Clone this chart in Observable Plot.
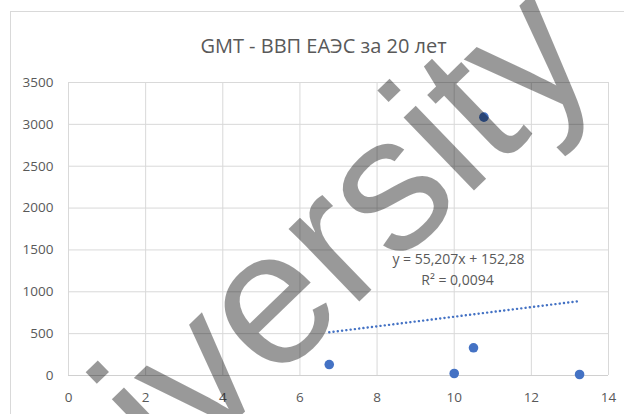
<!DOCTYPE html>
<html>
<head>
<meta charset="utf-8">
<script src="https://cdn.jsdelivr.net/npm/d3@7"></script>
<script src="https://cdn.jsdelivr.net/npm/@observablehq/plot@0.6"></script>
<style>
  html, body { margin: 0; padding: 0; background: #fff; overflow: hidden; }
  #chart { width: 624px; height: 414px; position: relative; }
</style>
</head>
<body>
<div id="chart"></div>
<script>
// Data
const gmt = [6.76, 10.0, 10.5, 10.77, 13.25];
const gdp = [131, 24, 331, 3086, 12];
const xTicks = [0, 2, 4, 6, 8, 10, 12, 14];
const yTicks = [0, 500, 1000, 1500, 2000, 2500, 3000, 3500];
const titleText = "GMT - ВВП ЕАЭС за 20 лет";
const eqLine1 = "y = 55,207x + 152,28";
const eqLine2 = "R² = 0,0094";
const watermark = "university";

const points = gmt.map((x, i) => ({x, y: gdp[i]}));
const blue = "#4472C4";
const grey = "#595959";
const font = "'Open Sans', sans-serif";

const chart = Plot.plot({
  width: 624,
  height: 414,
  marginLeft: 68,
  marginRight: 16,
  marginTop: 82,
  marginBottom: 39,
  style: {fontFamily: font, background: "transparent", overflow: "visible"},
  x: {domain: [0, 14]},
  y: {domain: [0, 3500]},
  marks: [
    Plot.gridX(xTicks, {stroke: "#d9d9d9", strokeOpacity: 1}),
    Plot.gridY(yTicks, {stroke: "#d9d9d9", strokeOpacity: 1}),
    Plot.ruleY([0], {stroke: "#d0d0d0"}),
    Plot.axisX({ticks: xTicks, tickSize: 0, tickPadding: 17, fontSize: 13.5, fill: grey, label: null, tickFormat: d => String(d)}),
    Plot.axisY({ticks: yTicks, tickSize: 0, tickPadding: 15, fontSize: 13.5, fill: grey, label: null, tickFormat: d => String(d)}),
    Plot.linearRegressionY(points, {x: "x", y: "y", ci: 0, stroke: blue, strokeWidth: 2.4, strokeDasharray: "0.1,4.2", strokeLinecap: "round"}),
    Plot.dot(points, {x: "x", y: "y", r: 4.8, fill: blue, stroke: blue, strokeWidth: 0}),
    Plot.text([titleText], {frameAnchor: "top", dx: -15, dy: -30, lineAnchor: "bottom", text: d => d, fontSize: 20, fill: grey, fontFamily: font}),
    Plot.text([eqLine1], {frameAnchor: "top-left", dx: 390, dy: 177, textAnchor: "middle", lineAnchor: "middle", text: d => d, fontSize: 14, fill: grey, fontFamily: font}),
    Plot.text([eqLine2], {frameAnchor: "top-left", dx: 389, dy: 198, textAnchor: "middle", lineAnchor: "middle", text: d => d, fontSize: 14, fill: grey, fontFamily: font}),
    Plot.text([watermark], {frameAnchor: "top-left", dx: -49, dy: 547, rotate: -44, textAnchor: "start", lineAnchor: "bottom", text: d => d, fontSize: 192, fill: "#000", fillOpacity: 0.4, fontFamily: "'Liberation Sans', Arial, sans-serif"})
  ]
});

d3.select(chart).insert("rect", ":first-child")
  .attr("x", 10.5).attr("y", 11.5).attr("width", 800).attr("height", 600)
  .attr("fill", "none").attr("stroke", "#d9d9d9");

document.getElementById("chart").appendChild(chart);
</script>
</body>
</html>
